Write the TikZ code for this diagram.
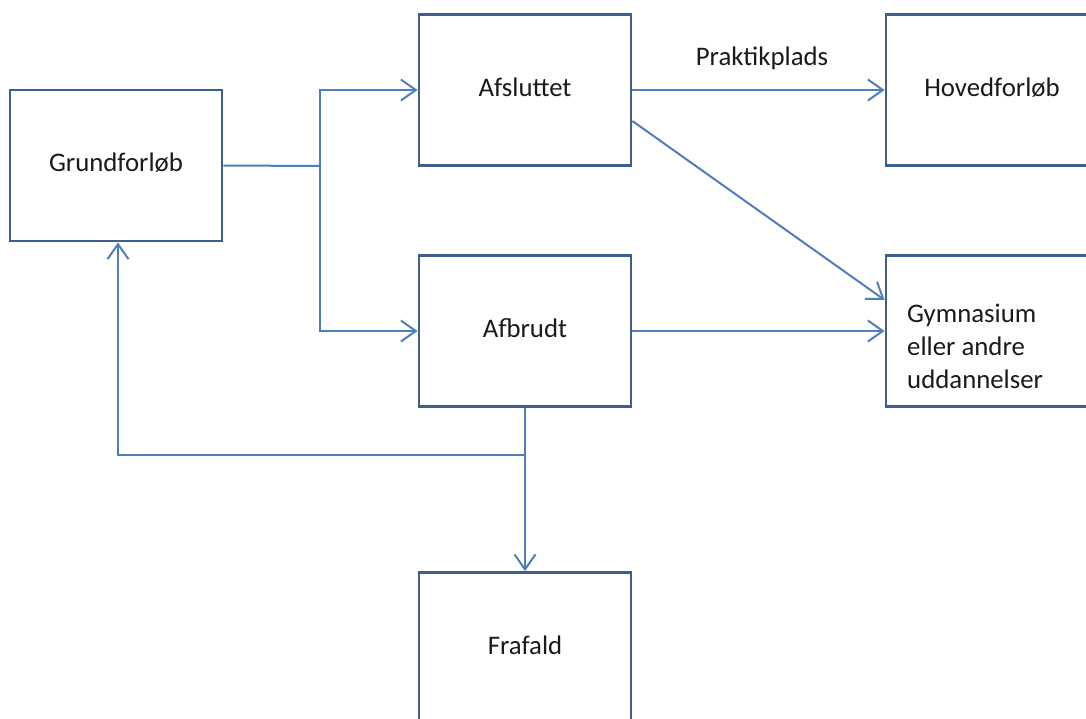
\documentclass[tikz,border=0pt]{standalone}
\usepackage{fontspec}
\setmainfont{Carlito}
\usetikzlibrary{arrows.meta}
\definecolor{boxc}{HTML}{3D5F8F}
\definecolor{arrc}{HTML}{4F7EBB}
\definecolor{txtc}{HTML}{1A1A1A}
\begin{document}
\begin{tikzpicture}[x=1pt,y=-1pt,
  box/.style={draw=boxc, line width=2.8pt, minimum width=212pt, minimum height=151pt, inner sep=0pt, text=txtc, text height=18pt, text depth=6pt, font=\fontsize{26.8}{33}\selectfont},
  conn/.style={draw=arrc, line width=2pt},
  arr/.style={conn, -{Straight Barb[length=15pt,width=21pt,line width=2pt]}},
  lbl/.style={text=txtc, font=\fontsize{26.8}{33}\selectfont}]
\useasboundingbox (0,0) rectangle (1086,718);
\clip (0,0) rectangle (1086,718);
\node[box] (G) at (116,165.5) {Grundforløb};
\node[box] (A) at (525,90) {Afsluttet};
\node[box] (B) at (525,331) {Afbrudt};
\node[box] (H) at (992,90) {Hovedforløb};
\node[box] (Y) at (992,331) {};
\node[lbl, align=left, anchor=west, inner sep=0pt] (Yt) at (907,346) {Gymnasium\\eller andre\\uddannelser};
\node[box] (F) at (525,648) {Frafald};
\node[lbl] (P) at (762,58) {Praktikplads};
\coordinate (split) at (320,166);
\coordinate (junc) at (525,455);
\draw[conn] (G.east) -- (split);
\draw[arr] (split) |- (A.west);
\draw[arr] (split) |- (B.west);
\draw[arr] (A.east) -- (H.west);
\draw[arr] ([yshift=-31pt]A.east) -- ([yshift=31pt]Y.west);
\draw[arr] (B.east) -- (Y.west);
\draw[arr] (B.south) -- (F.north);
\draw[arr] (junc) -| ([xshift=2pt]G.south);
\end{tikzpicture}
\end{document}
